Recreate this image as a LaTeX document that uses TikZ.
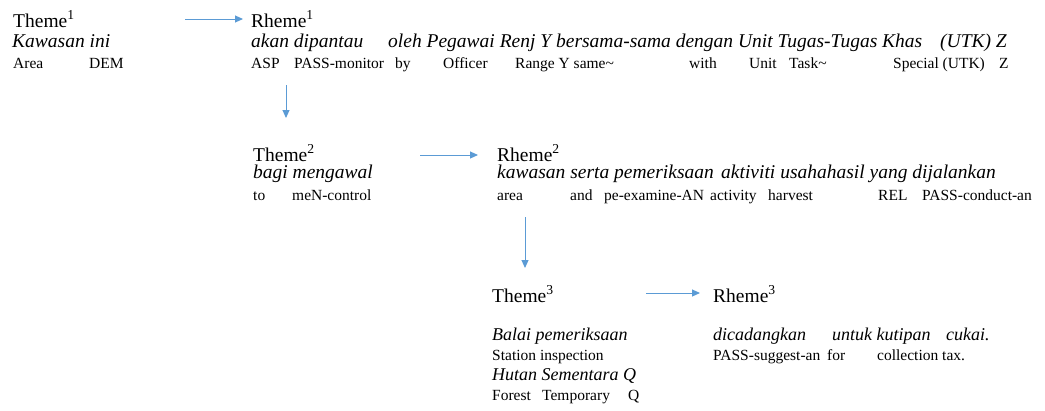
\documentclass[tikz,border=0pt]{standalone}
\usepackage{fontspec}
\setmainfont{Liberation Serif}
\usepackage{xcolor}
\usetikzlibrary{arrows.meta}
\definecolor{flowblue}{RGB}{91,155,213}

\begin{document}
\begin{tikzpicture}[x=1pt,y=-1pt,
    head/.style={anchor=base west,inner sep=0pt,text depth=0pt,font=\fontsize{19.5}{23}\selectfont},
    word/.style={anchor=base west,inner sep=0pt,font=\fontsize{19.5}{23}\selectfont\itshape},
    smallword/.style={word,font=\fontsize{18}{21}\selectfont\itshape},
    gloss/.style={anchor=base west,inner sep=0pt,font=\fontsize{15.5}{18}\selectfont},
    flow/.style={draw=flowblue,line width=1pt,-{Triangle[length=8pt,width=7pt]}}]
    \useasboundingbox (0,0) rectangle (1045,410);

    % first clause
    \node[head] (theme1) at (13,27) {Theme\textsuperscript{1}};
    \node[head] (rheme1) at (251,27) {Rheme\textsuperscript{1}};
    \node[word] (kawasan) at (12,47) {Kawasan ini};
    \node[word] (akan) at (251,47) {akan dipantau};
    \node[word] (oleh) at (388,47) {oleh Pegawai Renj Y bersama-sama dengan Unit Tugas-Tugas Khas};
    \node[word] (utk) at (940,47) {(UTK) Z};
    \node[gloss] (g11) at (13,68) {Area};
    \node[gloss] (g12) at (89,68) {DEM};
    \node[gloss] (g13) at (251,68) {ASP};
    \node[gloss] (g14) at (294,68) {PASS-monitor};
    \node[gloss] (g15) at (395,68) {by};
    \node[gloss] (g16) at (443,68) {Officer};
    \node[gloss] (g17) at (515,68) {Range Y same\textasciitilde};
    \node[gloss] (g18) at (689,68) {with};
    \node[gloss] (g19) at (749,68) {Unit};
    \node[gloss] (g110) at (789,68) {Task\textasciitilde};
    \node[gloss] (g111) at (893,68) {Special (UTK)};
    \node[gloss] (g112) at (999,68) {Z};

    % second clause
    \node[head] (theme2) at (253,161) {Theme\textsuperscript{2}};
    \node[head] (rheme2) at (497,161) {Rheme\textsuperscript{2}};
    \node[word] (bagi) at (253,178) {bagi mengawal};
    \node[word] (kawasan2) at (497,178) {kawasan serta pemeriksaan};
    \node[word] (aktiviti) at (721,178) {aktiviti usahahasil yang dijalankan};
    \node[gloss] (g21) at (253,200) {to};
    \node[gloss] (g22) at (292,200) {meN-control};
    \node[gloss] (g23) at (497,200) {area};
    \node[gloss] (g24) at (570,200) {and};
    \node[gloss] (g25) at (604,200) {pe-examine-AN};
    \node[gloss] (g26) at (710,200) {activity};
    \node[gloss] (g27) at (768,200) {harvest};
    \node[gloss] (g28) at (878,200) {REL};
    \node[gloss] (g29) at (922,200) {PASS-conduct-an};

    % third clause
    \node[head] (theme3) at (492,302) {Theme\textsuperscript{3}};
    \node[head] (rheme3) at (713,302) {Rheme\textsuperscript{3}};
    \node[smallword] (balai) at (492,340) {Balai pemeriksaan};
    \node[smallword] (dicadang) at (713,340) {dicadangkan};
    \node[smallword] (untuk) at (832,340) {untuk kutipan};
    \node[smallword] (cukai) at (946,340) {cukai.};
    \node[gloss] (g31) at (492,360) {Station inspection};
    \node[gloss] (g32) at (713,360) {PASS-suggest-an};
    \node[gloss] (g33) at (827,360) {for};
    \node[gloss] (g34) at (877,360) {collection tax.};
    \node[smallword] (hutan) at (492,380) {Hutan Sementara Q};
    \node[gloss] (g35) at (492,400) {Forest};
    \node[gloss] (g36) at (542,400) {Temporary};
    \node[gloss] (g37) at (628,400) {Q};

    % arrows
    \coordinate (a1) at (185,19);
    \coordinate (b1) at (243,19);
    \coordinate (d1) at (286,85);
    \coordinate (e1) at (286,118);
    \coordinate (a2) at (420,155);
    \coordinate (b2) at (478,155);
    \coordinate (d2) at (525,217);
    \coordinate (e2) at (525,268);
    \coordinate (a3) at (646,293);
    \coordinate (b3) at (700,293);
    \draw[flow] (a1) -- (b1);
    \draw[flow] (d1) -- (e1);
    \draw[flow] (a2) -- (b2);
    \draw[flow] (d2) -- (e2);
    \draw[flow] (a3) -- (b3);
\end{tikzpicture}
\end{document}
